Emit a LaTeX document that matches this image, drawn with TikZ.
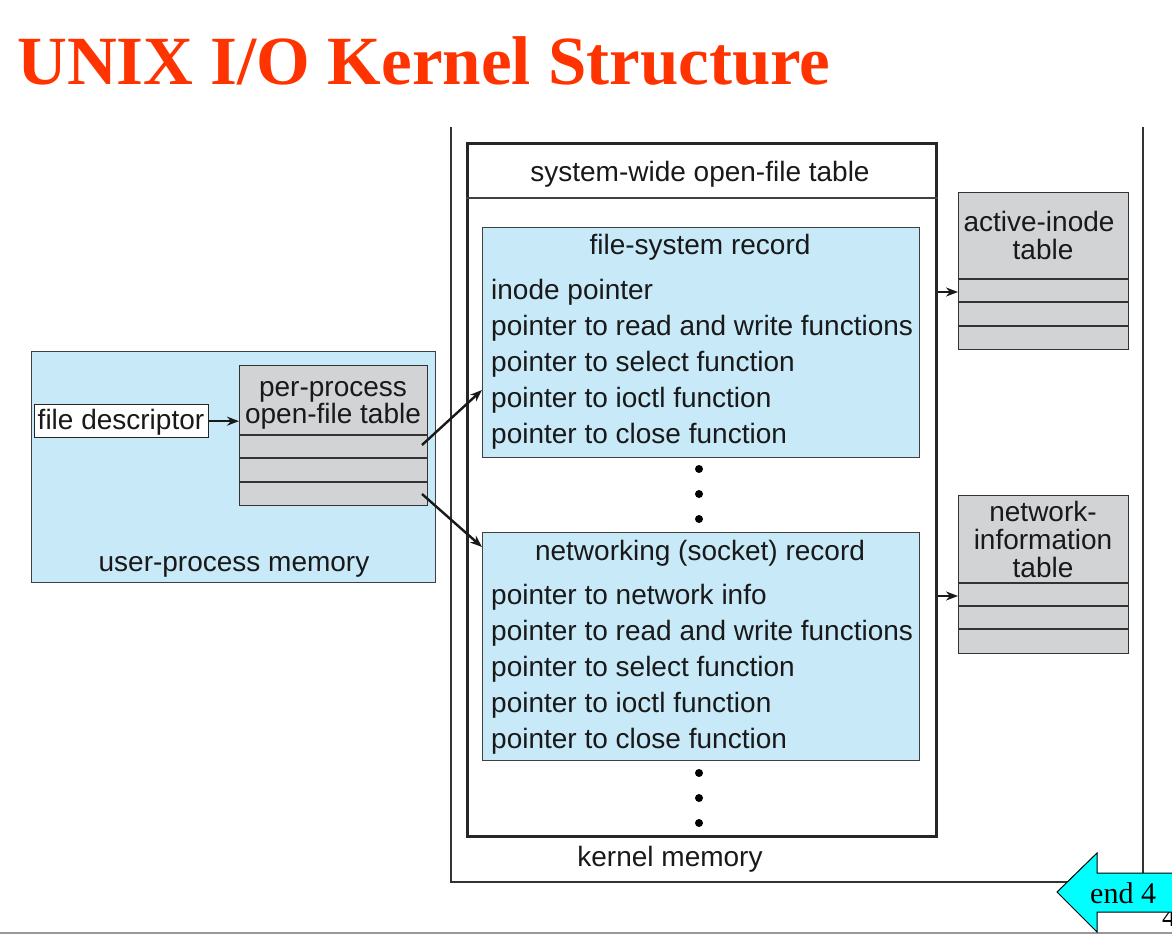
\documentclass[tikz,border=0pt]{standalone}
\usepackage{fontspec}
\setmainfont{Liberation Sans}
\newfontfamily\timesfont{Liberation Serif}
\usetikzlibrary{arrows.meta}
\definecolor{recblue}{RGB}{200,233,248}
\definecolor{tgray}{RGB}{210,211,213}
\definecolor{titlered}{RGB}{255,51,0}
\definecolor{arrowcyan}{RGB}{0,255,255}
\tikzset{
  txt/.style={font=\fontsize{28}{30}\selectfont, inner sep=0pt, text=black!90},
  recbox/.style={draw=black!75, line width=1.2pt, fill=recblue, inner sep=0pt},
  tabbox/.style={draw=black!80, line width=1.3pt, fill=tgray, inner sep=0pt},
  rowline/.style={draw=black!80, line width=1.3pt},
  conn/.style={draw=black!90, line width=2.4pt, -{Stealth[length=12pt,width=9pt]}},
  dotm/.style={circle, fill=black, inner sep=0pt, minimum size=8pt},
}
\begin{document}
\begin{tikzpicture}[x=1pt,y=-1pt]
\useasboundingbox (0,0) rectangle (1172,935);
% title
\node[anchor=base west, inner sep=0pt, text=titlered, font=\timesfont\bfseries\fontsize{69}{71}\selectfont] (title) at (17,84) {UNIX I/O Kernel Structure};
% bottom rule
\draw[black!40, line width=2pt] (0,933) -- (1172,933);
% kernel memory frame
\coordinate (kmtl) at (451,127);
\coordinate (kmbl) at (451,882);
\coordinate (kmbr) at (1143,882);
\coordinate (kmtr) at (1143,127);
\draw[black!80, line width=1.2pt] (kmtl) -- (kmbl) -- (kmbr) -- (kmtr);
\node[txt, anchor=base] (kmem) at (670,866) {kernel memory};
% system-wide open-file table
\node[draw=black!85, line width=3pt, fill=white, inner sep=0pt, minimum width=469pt, minimum height=693pt, anchor=north west] (swt) at (466,142) {};
\draw[black!75, line width=1.2pt] (swt.west |- 0,198) -- (swt.east |- 0,198);
\node[txt, anchor=base] (swttitle) at (700,181) {system-wide open-file table};
% file-system record
\node[recbox, minimum width=437pt, minimum height=230pt, anchor=north west] (fsr) at (482,227) {};
\node[txt, anchor=base] (fsrt) at (700,254) {file-system record};
\node[txt, anchor=base west] (f1) at (491,299) {inode pointer};
\node[txt, anchor=base west] (f2) at (491,335) {pointer to read and write functions};
\node[txt, anchor=base west] (f3) at (491,371) {pointer to select function};
\node[txt, anchor=base west] (f4) at (491,407) {pointer to ioctl function};
\node[txt, anchor=base west] (f5) at (491,443) {pointer to close function};
\node[dotm] (d1) at (699,469) {};
\node[dotm] (d2) at (699,494) {};
\node[dotm] (d3) at (699,519) {};
% networking record
\node[recbox, minimum width=437pt, minimum height=228pt, anchor=north west] (nsr) at (482,532) {};
\node[txt, anchor=base] (nsrt) at (700,560) {networking (socket) record};
\node[txt, anchor=base west] (n1) at (491,604) {pointer to network info};
\node[txt, anchor=base west] (n2) at (491,640) {pointer to read and write functions};
\node[txt, anchor=base west] (n3) at (491,676) {pointer to select function};
\node[txt, anchor=base west] (n4) at (491,712) {pointer to ioctl function};
\node[txt, anchor=base west] (n5) at (491,748) {pointer to close function};
\node[dotm] (d4) at (699,773) {};
\node[dotm] (d5) at (699,798) {};
\node[dotm] (d6) at (699,823) {};
% active-inode table
\node[tabbox, minimum width=170pt, minimum height=157pt, anchor=north west] (ait) at (958,192) {};
\foreach \yy in {279,302,326} \draw[rowline] (ait.west |- 0,\yy) -- (ait.east |- 0,\yy);
\node[txt, anchor=base] (ait1) at (1039,231) {active-inode};
\node[txt, anchor=base] (ait2) at (1043,259) {table};
% network-information table
\node[tabbox, minimum width=170pt, minimum height=158pt, anchor=north west] (nit) at (958,495) {};
\foreach \yy in {583,606,629} \draw[rowline] (nit.west |- 0,\yy) -- (nit.east |- 0,\yy);
\node[txt, anchor=base] (nit1) at (1043,521) {network-};
\node[txt, anchor=base] (nit2) at (1043,549) {information};
\node[txt, anchor=base] (nit3) at (1043,577) {table};
% user-process memory
\node[recbox, minimum width=404pt, minimum height=231pt, anchor=north west] (upm) at (31,351) {};
\node[txt, anchor=base] (upmt) at (234,571) {user-process memory};
\node[draw=black!85, line width=1.3pt, fill=white, inner sep=0pt, minimum width=174pt, minimum height=33pt, anchor=north west] (fd) at (34,404) {};
\node[txt, anchor=base] (fdt) at (121,429) {file descriptor};
\node[tabbox, minimum width=188pt, minimum height=140pt, anchor=north west] (ppt) at (239,365) {};
\foreach \yy in {435,458,482} \draw[rowline] (ppt.west |- 0,\yy) -- (ppt.east |- 0,\yy);
\node[txt, anchor=base] (ppt1) at (333,396) {per-process};
\node[txt, anchor=base] (ppt2) at (333,423) {open-file table};
% connectors
\draw[conn] (fd.east) -- (fd.east -| ppt.west);
\coordinate (p1) at (422,445);
\coordinate (p2) at (422,494);
\coordinate (e1) at (482,390);
\coordinate (e2) at (482,547);
\draw[conn] (p1) -- (e1);
\draw[conn] (p2) -- (e2);
\draw[conn] (swt.east |- 0,292) -- (ait.west |- 0,292);
\draw[conn] (swt.east |- 0,596) -- (nit.west |- 0,596);
% page number fragment and end arrow
\node[anchor=base west, inner sep=0pt, font=\timesfont\fontsize{28}{30}\selectfont] (pgnum) at (1162,926) {4};
\draw[black, line width=1pt, fill=arrowcyan] (1057,892) -- (1097,853) -- (1097,873) -- (1180,873) -- (1180,912) -- (1097,912) -- (1097,932) -- cycle;
\node[anchor=base west, inner sep=0pt, font=\timesfont\fontsize{30}{32}\selectfont] (endt) at (1090,903) {end 4};
\end{tikzpicture}
\end{document}
